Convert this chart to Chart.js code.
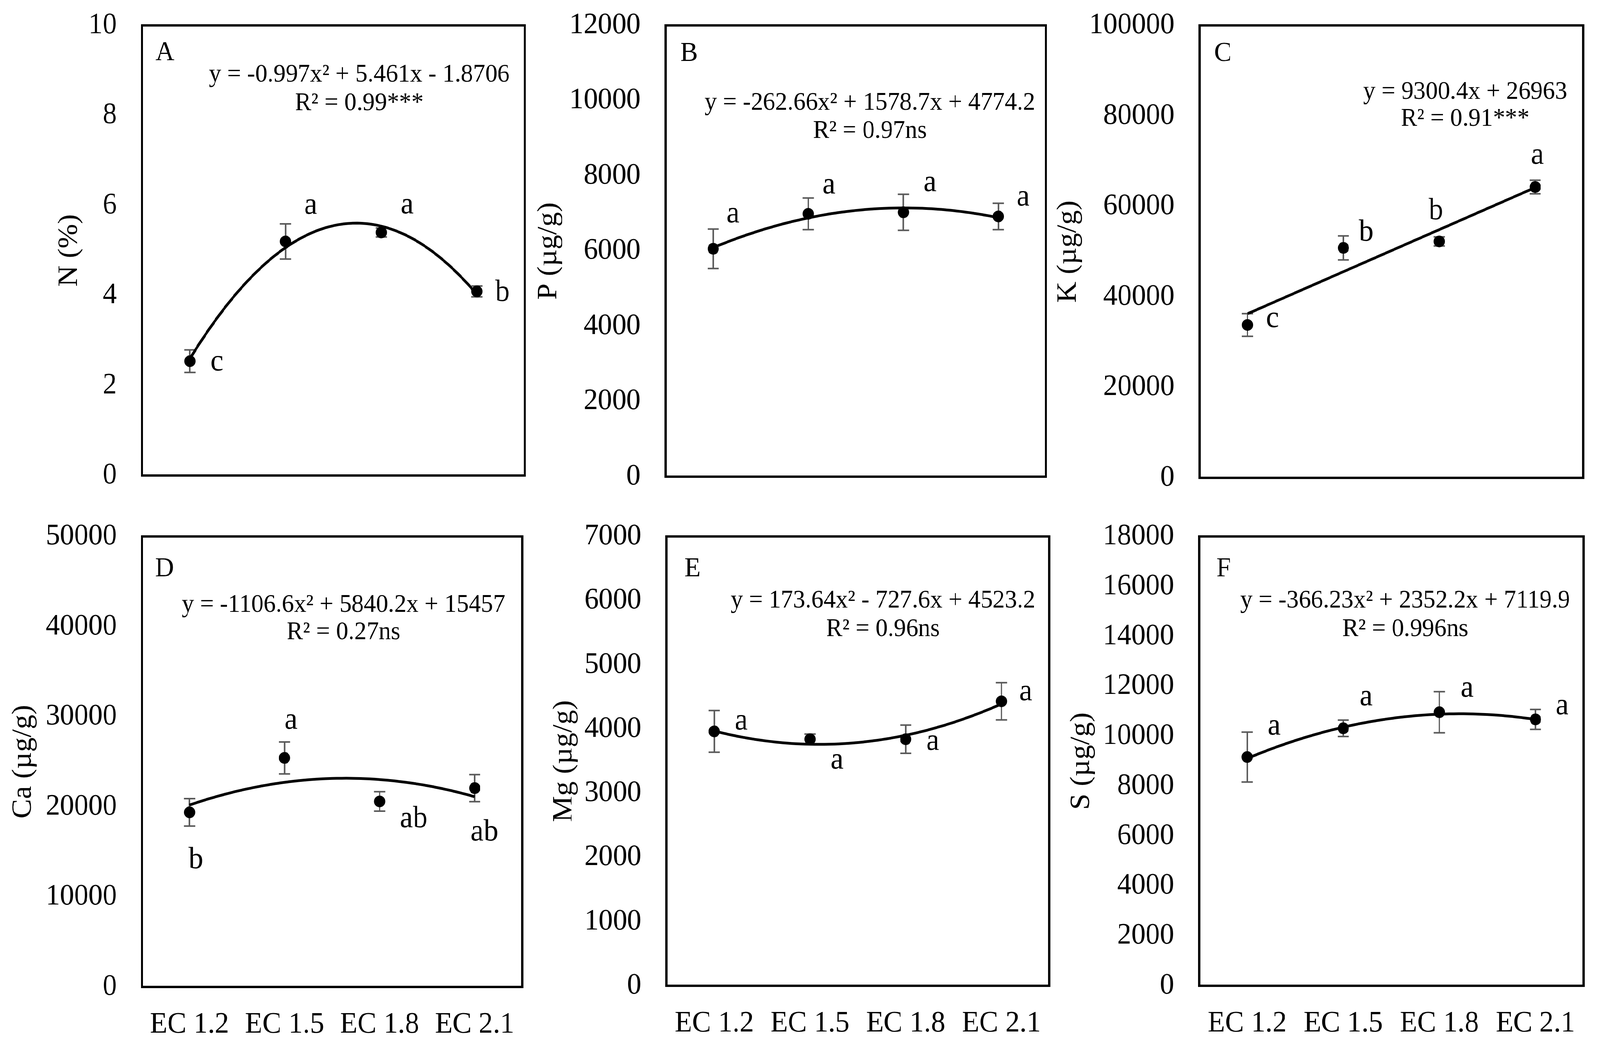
<!DOCTYPE html>
<html>
<head>
<meta charset="utf-8">
<script src="https://cdn.jsdelivr.net/npm/chart.js@4.4.1/dist/chart.umd.min.js"></script>
<style>
  html, body { margin: 0; padding: 0; background: #fff; overflow: hidden; }
  #page { position: relative; width: 4271px; height: 2672px; background: #fff; overflow: hidden; transform-origin: 0 0; }
  #page canvas { position: absolute; }
</style>
</head>
<body>
<div id="page"></div>
<script>
const ecLabels = ["EC 1.2", "EC 1.5", "EC 1.8", "EC 2.1"];

// A - N (%)
const nMeans = [2.54, 5.20, 5.40, 4.09];
const nErrors = [0.25, 0.39, 0.10, 0.12];
const nLetters = ["c", "a", "a", "b"];
const nFit = [-0.997, 5.461, -1.8706];
const nEquation = ["y = -0.997x² + 5.461x - 1.8706", "R² = 0.99***"];
const nTicks = [0, 10, 2];

// B - P (µg/g)
const pMeans = [6060, 6990, 7030, 6920];
const pErrors = [525, 420, 480, 350];
const pLetters = ["a", "a", "a", "a"];
const pFit = [-262.66, 1578.7, 4774.2];
const pEquation = ["y = -262.66x² + 1578.7x + 4774.2", "R² = 0.97ns"];
const pTicks = [0, 12000, 2000];

// C - K (µg/g)
const kMeans = [33790, 50820, 52250, 64280];
const kErrors = [2500, 2650, 1000, 1500];
const kLetters = ["c", "b", "b", "a"];
const kFit = [0, 9300.4, 26963];
const kEquation = ["y = 9300.4x + 26963", "R² = 0.91***"];
const kTicks = [0, 100000, 20000];

// D - Ca (µg/g)
const caMeans = [19380, 25420, 20590, 22070];
const caErrors = [1520, 1770, 1080, 1500];
const caLetters = ["b", "a", "ab", "ab"];
const caFit = [-1106.6, 5840.2, 15457];
const caEquation = ["y = -1106.6x² + 5840.2x + 15457", "R² = 0.27ns"];
const caTicks = [0, 50000, 10000];

// E - Mg (µg/g)
const mgMeans = [3963, 3841, 3841, 4432];
const mgErrors = [325, 80, 220, 290];
const mgLetters = ["a", "a", "a", "a"];
const mgFit = [173.64, -727.6, 4523.2];
const mgEquation = ["y = 173.64x² - 727.6x + 4523.2", "R² = 0.96ns"];
const mgTicks = [0, 7000, 1000];

// F - S (µg/g)
const sMeans = [9164, 10315, 10959, 10671];
const sErrors = [1000, 330, 825, 400];
const sLetters = ["a", "a", "a", "a"];
const sFit = [-366.23, 2352.2, 7119.9];
const sEquation = ["y = -366.23x² + 2352.2x + 7119.9", "R² = 0.996ns"];
const sTicks = [0, 18000, 2000];

// page positions of each panel (plot box: left, right, top, bottom)
const FONT = "'Times New Roman', 'Liberation Serif', serif";
const layouts = {
  A: { titleX: 185, plot: [379, 1401, 65, 1217], eq: [959, 192, 265], tag: [415, 154],
       offs: [[72, 3], [67, -91], [69, -69], [68, 4]] },
  B: { titleX: 1465, plot: [1777, 2792, 65, 1220], eq: [2322, 264, 336], tag: [1816, 156],
       offs: [[53, -88], [55, -73], [71, -75], [66, -48]] },
  C: { titleX: 2852, plot: [3202, 4226, 65, 1223], eq: [3911, 236, 305], tag: [3241, 156],
       offs: [[67, -15], [61, -39], [-9, -77], [6, -80]] },
  D: { titleX: 62, plot: [379, 1394, 1373, 2526], eq: [917, 1549, 1619], tag: [414, 1475],
       offs: [[17, 122], [17, -95], [91, 45], [26, 113]] },
  E: { titleX: 1506, plot: [1779, 2801, 1373, 2523], eq: [2357, 1538, 1611], tag: [1827, 1475],
       offs: [[72, -25], [72, 55], [72, 7], [65, -23]] },
  F: { titleX: 2887, plot: [3201, 4227, 1373, 2523], eq: [3751, 1538, 1611], tag: [3247, 1475],
       offs: [[72, -78], [61, -79], [74, -60], [71, -34]] }
};

const panels = [
  { tag: "A", title: "N (%)", means: nMeans, errs: nErrors, letters: nLetters, fit: nFit, eq: nEquation, ticks: nTicks, showX: false },
  { tag: "B", title: "P (µg/g)", means: pMeans, errs: pErrors, letters: pLetters, fit: pFit, eq: pEquation, ticks: pTicks, showX: false },
  { tag: "C", title: "K (µg/g)", means: kMeans, errs: kErrors, letters: kLetters, fit: kFit, eq: kEquation, ticks: kTicks, showX: false },
  { tag: "D", title: "Ca (µg/g)", means: caMeans, errs: caErrors, letters: caLetters, fit: caFit, eq: caEquation, ticks: caTicks, showX: true },
  { tag: "E", title: "Mg (µg/g)", means: mgMeans, errs: mgErrors, letters: mgLetters, fit: mgFit, eq: mgEquation, ticks: mgTicks, showX: true },
  { tag: "F", title: "S (µg/g)", means: sMeans, errs: sErrors, letters: sLetters, fit: sFit, eq: sEquation, ticks: sTicks, showX: true }
];

const page = document.getElementById("page");
// the layout is in 4271x2672 units; stretch it onto whatever viewport we get
const fitX = Math.min(1, window.innerWidth / 4271);
const fitY = Math.min(1, window.innerHeight / 2672);
page.style.transform = "scale(" + fitX + "," + fitY + ")";
document.body.style.height = (2672 * fitY) + "px";

// box, error bars, significance letters, equation and panel tag
const decorPlugin = {
  id: "decor",
  beforeDatasetsDraw(chart) {
    const p = chart.options.plugins.decor.panel;
    const { ctx, scales } = chart;
    ctx.save();
    ctx.strokeStyle = "#595959";
    ctx.lineWidth = 4;
    p.means.forEach((m, i) => {
      const x = scales.x.getPixelForValue(i + 1);
      const yTop = scales.y.getPixelForValue(m + p.errs[i]);
      const yBot = scales.y.getPixelForValue(m - p.errs[i]);
      ctx.beginPath();
      ctx.moveTo(x, yTop); ctx.lineTo(x, yBot);
      ctx.moveTo(x - 15, yTop); ctx.lineTo(x + 15, yTop);
      ctx.moveTo(x - 15, yBot); ctx.lineTo(x + 15, yBot);
      ctx.stroke();
    });
    ctx.restore();
  },
  afterDraw(chart) {
    const p = chart.options.plugins.decor.panel;
    const lay = layouts[p.tag];
    const org = chart.options.plugins.decor.origin;
    const { ctx, chartArea, scales } = chart;
    ctx.save();
    ctx.strokeStyle = "#000";
    ctx.lineWidth = 6;
    ctx.strokeRect(chartArea.left, chartArea.top, chartArea.right - chartArea.left, chartArea.bottom - chartArea.top);

    ctx.fillStyle = "#000";
    ctx.textAlign = "center";
    ctx.textBaseline = "middle";
    ctx.font = "78px " + FONT;
    p.letters.forEach((t, i) => {
      const x = scales.x.getPixelForValue(i + 1) + lay.offs[i][0];
      const y = scales.y.getPixelForValue(p.means[i]) + lay.offs[i][1];
      ctx.fillText(t, x, y);
    });

    ctx.font = "65px " + FONT;
    ctx.fillText(p.eq[0], lay.eq[0] - org[0], lay.eq[1] - org[1]);
    ctx.fillText(p.eq[1], lay.eq[0] - org[0], lay.eq[2] - org[1]);

    ctx.textAlign = "left";
    ctx.textBaseline = "alphabetic";
    ctx.font = "70px " + FONT;
    ctx.fillText(p.tag, lay.tag[0] - org[0], lay.tag[1] - org[1]);
    ctx.restore();
  }
};

panels.forEach(p => {
  const lay = layouts[p.tag];
  const [pl, pr, pt, pb] = lay.plot;
  const padTop = 55;
  const padRight = 40;
  const L = lay.titleX - 45;
  const T = pt - padTop;
  const xh = p.showX ? 140 : 55;
  const W = pr + padRight - L;
  const H = pb + xh - T;

  const canvas = document.createElement("canvas");
  canvas.width = W;
  canvas.height = H;
  canvas.style.left = L + "px";
  canvas.style.top = T + "px";
  canvas.style.width = W + "px";
  canvas.style.height = H + "px";
  page.appendChild(canvas);

  const fitPts = [];
  for (let i = 0; i <= 60; i++) {
    const x = 1 + i * 3 / 60;
    fitPts.push({ x: x, y: p.fit[0] * x * x + p.fit[1] * x + p.fit[2] });
  }

  new Chart(canvas.getContext("2d"), {
    type: "scatter",
    data: {
      datasets: [
        {
          data: p.means.map((v, i) => ({ x: i + 1, y: v })),
          backgroundColor: "#000",
          borderWidth: 0,
          pointRadius: 15,
          order: 0
        },
        {
          type: "line",
          data: fitPts,
          borderColor: "#000",
          borderWidth: 7,
          pointRadius: 0,
          fill: false,
          tension: 0,
          order: 1
        }
      ]
    },
    options: {
      responsive: false,
      animation: false,
      layout: { padding: { left: 0, top: padTop, right: padRight, bottom: 0 } },
      plugins: {
        legend: { display: false },
        tooltip: { enabled: false },
        decor: { panel: p, origin: [L, T] }
      },
      scales: {
        x: {
          type: "linear",
          min: 0.5,
          max: 4.5,
          grid: { display: false },
          border: { display: false },
          afterBuildTicks: s => { s.ticks = ecLabels.map((_, i) => ({ value: i + 1 })); },
          afterFit: s => { s.height = xh; },
          ticks: {
            display: p.showX,
            autoSkip: false,
            maxRotation: 0,
            padding: 43,
            color: "#000",
            font: { family: FONT, size: 76 },
            callback: v => ecLabels[Math.round(v) - 1] || ""
          }
        },
        y: {
          min: p.ticks[0],
          max: p.ticks[1],
          // invisible tick marks push the labels away from the box
          grid: { display: true, drawOnChartArea: false, drawTicks: true, tickLength: 67, tickColor: "rgba(0,0,0,0)" },
          border: { display: false },
          afterFit: s => { s.width = pl - L; },
          ticks: {
            stepSize: p.ticks[2],
            padding: 0,
            color: "#000",
            font: { family: FONT, size: 76 },
            callback: v => String(v)
          },
          title: {
            display: true,
            text: p.title,
            color: "#000",
            padding: 0,
            font: { family: FONT, size: 75 }
          }
        }
      }
    },
    plugins: [decorPlugin]
  });
});
</script>
</body>
</html>
